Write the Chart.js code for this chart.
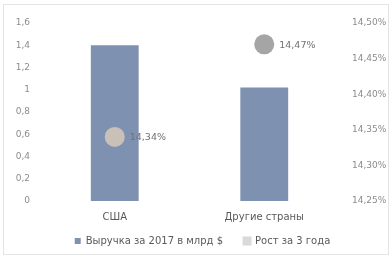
<!DOCTYPE html>
<html>
<head>
<meta charset="utf-8">
<script src="https://cdn.jsdelivr.net/npm/chart.js@4/dist/chart.umd.min.js"></script>
<style>
  html, body { margin: 0; padding: 0; background: #fff; }
  #wrap { position: absolute; left: 3px; top: 4px; width: 384px; height: 249px; border: 1px solid #e4e4e4; }
  canvas { position: absolute; left: 0; top: 0; }
</style>
</head>
<body>
<div id="wrap"></div>
<canvas id="chart" width="391" height="256"></canvas>
<script>
const categories = ['США', 'Другие страны'];
const revenue = [1.4, 1.02];
const growth = [14.34, 14.47];
const growthLabels = ['14,34%', '14,47%'];
const pointColors = ['#c9c0b8', '#a5a5a5'];

const fmtLeft = v => (Math.round(v * 10) / 10).toString().replace('.', ',');
const fmtRight = v => v.toFixed(2).replace('.', ',') + '%';
const FONT = '"DejaVu Sans", sans-serif';

// подписи к точкам
const pointLabels = {
  id: 'pointLabels',
  afterLayout(chart) {
    // легенда: широкий шаг между пунктами, но без лишней высоты
    const lg = chart.legend;
    if (lg) { lg.top = 215; lg.bottom = 256; lg.left += 7; lg.right += 7; }
  },
  afterDatasetsDraw(chart) {
    const ctx = chart.ctx;
    const meta = chart.getDatasetMeta(1);
    ctx.save();
    ctx.font = '9.5px ' + FONT;
    ctx.fillStyle = '#707070';
    ctx.textBaseline = 'middle';
    meta.data.forEach((pt, i) => {
      ctx.fillText(growthLabels[i], pt.x + 15, pt.y + 1);
    });
    ctx.restore();
  }
};

const ctx = document.getElementById('chart').getContext('2d');
new Chart(ctx, {
  data: {
    labels: categories,
    datasets: [{
      type: 'bar',
      label: 'Выручка за 2017 в млрд $',
      data: revenue,
      backgroundColor: '#7f91b0',
      categoryPercentage: 1,
      barPercentage: 0.32,
      yAxisID: 'y',
      order: 2
    }, {
      type: 'line',
      label: 'Рост за 3 года',
      data: growth,
      showLine: false,
      pointRadius: 10,
      pointHoverRadius: 10,
      pointBackgroundColor: pointColors,
      pointBorderWidth: 0,
      backgroundColor: '#d9d9d9',
      borderColor: '#d9d9d9',
      yAxisID: 'y1',
      order: 1
    }]
  },
  options: {
    responsive: false,
    animation: false,
    layout: { padding: { top: 23, left: 0, right: 0, bottom: 0 } },
    plugins: {
      tooltip: { enabled: false },
      legend: {
        position: 'bottom',
        maxHeight: 30,
        labels: {
          sort: (a, b) => a.datasetIndex - b.datasetIndex,
          boxWidth: 6,
          boxHeight: 6,
          padding: 21,
          color: '#595959',
          font: { size: 10, family: FONT }
        }
      }
    },
    scales: {
      x: {
        grid: { display: false },
        border: { display: false },
        afterFit(scale) { scale.height = 25; },
        ticks: { color: '#595959', padding: 2, font: { size: 10, family: FONT } }
      },
      y: {
        position: 'left',
        min: 0,
        max: 1.6,
        grid: { display: false },
        border: { display: false },
        afterFit(scale) { scale.width = 40; },
        ticks: {
          stepSize: 0.2,
          padding: 2,
          color: '#8c8c8c',
          font: { size: 9, family: FONT },
          callback: v => fmtLeft(v)
        }
      },
      y1: {
        position: 'right',
        min: 14.25,
        max: 14.5,
        grid: { display: false },
        border: { display: false },
        afterFit(scale) { scale.width = 52; },
        ticks: {
          stepSize: 0.05,
          padding: 5,
          color: '#8c8c8c',
          font: { size: 9, family: FONT },
          callback: v => fmtRight(v)
        }
      }
    }
  },
  plugins: [pointLabels]
});
</script>
</body>
</html>
